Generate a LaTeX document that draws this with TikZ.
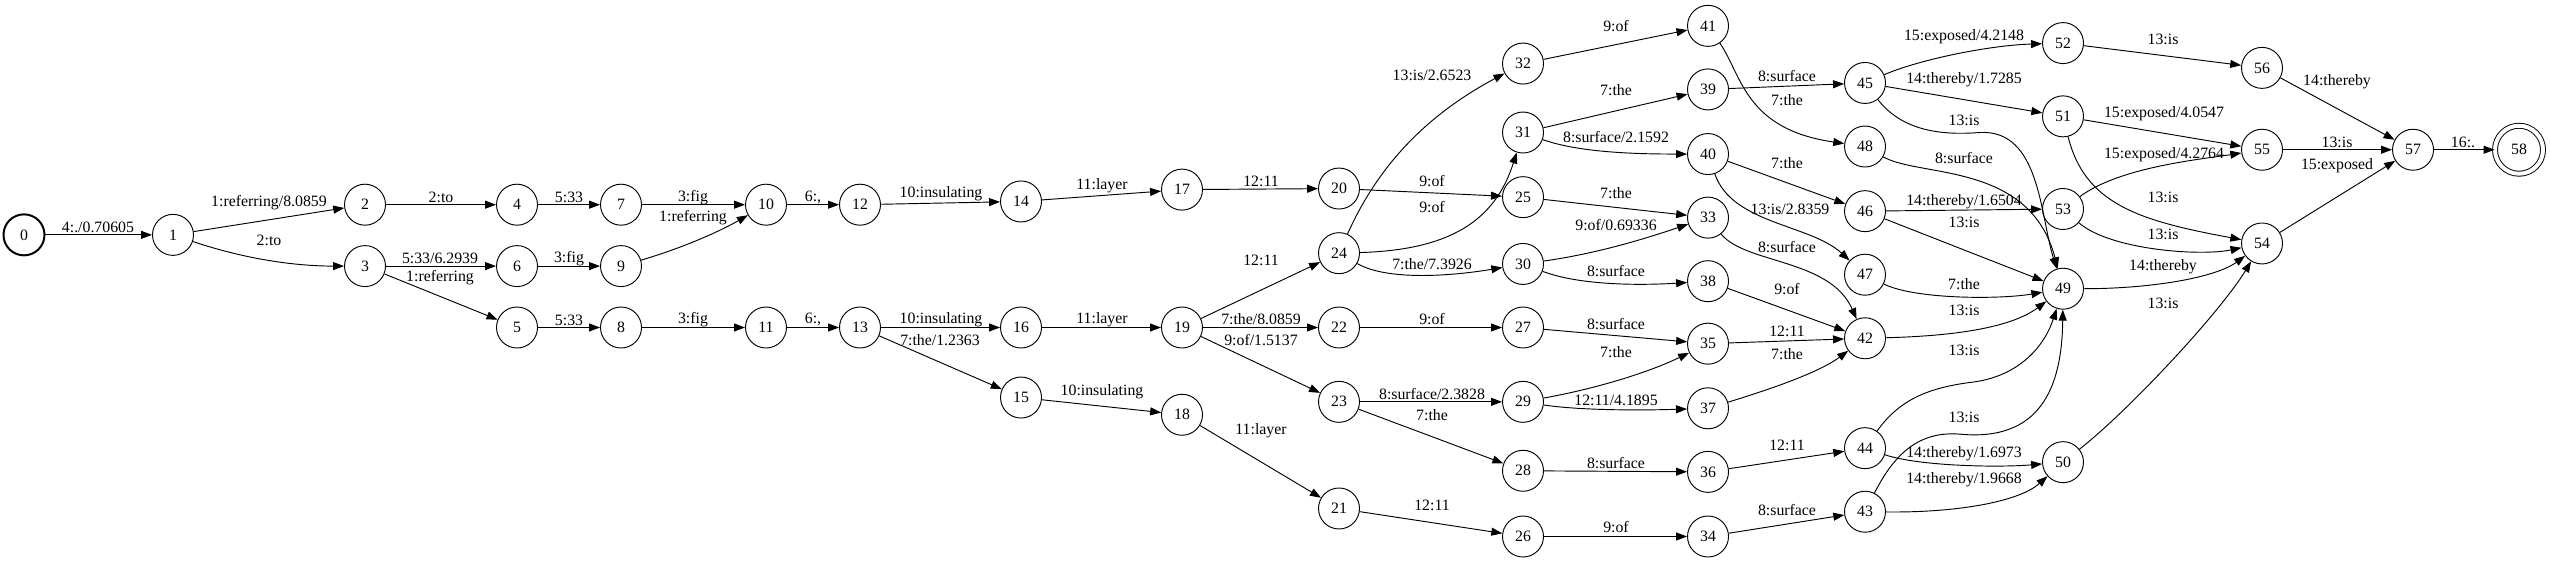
\documentclass[tikz,border=0pt]{standalone}
\usepackage{fontspec}
\setmainfont{Liberation Serif}
\usetikzlibrary{arrows.meta}

\begin{document}
\begin{tikzpicture}[x=0.03cm, y=-0.03232cm, line width=0.8pt,
  >={Triangle[length=0.33cm,width=0.24cm]},
  every node/.style={font=\fontsize{13.5}{16}\selectfont},
  st/.style={draw, circle, minimum size=1.23cm, inner sep=0pt},
  tr/.style={->},
  lab/.style={inner sep=0pt}]
  \useasboundingbox (0,0) rectangle (2550,522.6);
  % states
  \node[st, line width=1.7pt] (n0) at (24,218) {0};
  \foreach \n/\x/\y in {1/173/218, 2/365/190, 3/365/247, 4/517/190, 6/517/247,
      5/517/304, 7/621/190, 9/621/247, 8/621/304, 10/766/190, 11/766/304,
      12/860/190, 13/860/304, 14/1021/187, 16/1021/304, 15/1021/369,
      17/1182/176, 19/1182/304, 18/1182/385, 20/1339/175, 24/1339/235,
      22/1339/304, 23/1339/373, 21/1339/472, 32/1523/59, 31/1523/123,
      25/1523/183, 30/1523/245, 27/1523/304, 29/1523/373, 28/1523/437,
      26/1523/498, 41/1708/24, 39/1708/83, 40/1708/143, 33/1708/202,
      38/1708/261, 35/1708/319, 37/1708/379, 36/1708/438, 34/1708/498,
      45/1865/77, 48/1865/136, 46/1865/196, 47/1865/255, 42/1865/314,
      44/1865/416, 43/1865/475, 52/2063/40, 51/2063/108, 53/2063/194,
      49/2063/268, 50/2063/429, 56/2262/63, 55/2262/139, 54/2262/226,
      57/2413/139}
    \node[st] (n\n) at (\x,\y) {\n};
  \node[st, double, double distance=0.12cm, minimum size=1.44cm] (n58) at (2519,139) {58};

  % arcs
  \draw[tr] (n0) -- (n1) node[lab] at (98,211) {4:./0.70605};
  \draw[tr] (n1) -- (n2) node[lab] at (269,188) {1:referring/8.0859};
  \draw[tr] (n1) .. controls (250,242) and (300,247) .. (n3) node[lab] at (269,223) {2:to};
  \draw[tr] (n2) -- (n4) node[lab] at (441,183) {2:to};
  \draw[tr] (n3) -- (n6) node[lab] at (440,240) {5:33/6.2939};
  \draw[tr] (n3) -- (n5) node[lab] at (440,258) {1:referring};
  \draw[tr] (n4) -- (n7) node[lab] at (569,183) {5:33};
  \draw[tr] (n6) -- (n9) node[lab] at (569,240) {3:fig};
  \draw[tr] (n5) -- (n8) node[lab] at (569,297) {5:33};
  \draw[tr] (n7) -- (n10) node[lab] at (693,183) {3:fig};
  \draw[tr] (n9) .. controls (690,228) and (725,212) .. (n10) node[lab] at (693,202) {1:referring};
  \draw[tr] (n8) -- (n11) node[lab] at (693,297) {3:fig};
  \draw[tr] (n10) -- (n12) node[lab] at (813,183) {6:,};
  \draw[tr] (n11) -- (n13) node[lab] at (813,297) {6:,};
  \draw[tr] (n12) -- (n14) node[lab] at (941,180) {10:insulating};
  \draw[tr] (n13) -- (n16) node[lab] at (941,297) {10:insulating};
  \draw[tr] (n13) -- (n15) node[lab] at (940,316) {7:the/1.2363};
  \draw[tr] (n14) -- (n17) node[lab] at (1102,172) {11:layer};
  \draw[tr] (n16) -- (n19) node[lab] at (1102,297) {11:layer};
  \draw[tr] (n15) -- (n18) node[lab] at (1102,364) {10:insulating};
  \draw[tr] (n17) -- (n20) node[lab] at (1261,168) {12:11};
  \draw[tr] (n19) -- (n24) node[lab] at (1261,242) {12:11};
  \draw[tr] (n19) -- (n22) node[lab] at (1261,296) {7:the/8.0859};
  \draw[tr] (n19) -- (n23) node[lab] at (1261,316) {9:of/1.5137};
  \draw[tr] (n18) -- (n21) node[lab] at (1261,400) {11:layer};
  \draw[tr] (n24) .. controls (1375,160) and (1420,110) .. (n32) node[lab] at (1432,70) {13:is/2.6523};
  \draw[tr] (n20) -- (n25) node[lab] at (1432,168) {9:of};
  \draw[tr] (n24) .. controls (1450,232) and (1495,205) .. (n31) node[lab] at (1432,192) {9:of};
  \draw[tr] (n24) .. controls (1390,262) and (1460,255) .. (n30) node[lab] at (1432,245) {7:the/7.3926};
  \draw[tr] (n22) -- (n27) node[lab] at (1432,296) {9:of};
  \draw[tr] (n23) -- (n29) node[lab] at (1432,366) {8:surface/2.3828};
  \draw[tr] (n23) -- (n28) node[lab] at (1432,385) {7:the};
  \draw[tr] (n21) -- (n26) node[lab] at (1432,469) {12:11};
  \draw[tr] (n32) -- (n41) node[lab] at (1616,24) {9:of};
  \draw[tr] (n31) -- (n39) node[lab] at (1616,84) {7:the};
  \draw[tr] (n31) .. controls (1580,142) and (1640,143) .. (n40) node[lab] at (1616,127) {8:surface/2.1592};
  \draw[tr] (n25) -- (n33) node[lab] at (1616,179) {7:the};
  \draw[tr] (n30) .. controls (1600,235) and (1650,220) .. (n33) node[lab] at (1616,209) {9:of/0.69336};
  \draw[tr] (n30) .. controls (1580,265) and (1640,265) .. (n38) node[lab] at (1616,252) {8:surface};
  \draw[tr] (n27) -- (n35) node[lab] at (1616,301) {8:surface};
  \draw[tr] (n29) .. controls (1600,360) and (1650,345) .. (n35) node[lab] at (1616,327) {7:the};
  \draw[tr] (n29) .. controls (1580,381) and (1640,381) .. (n37) node[lab] at (1616,372) {12:11/4.1895};
  \draw[tr] (n28) -- (n36) node[lab] at (1616,430) {8:surface};
  \draw[tr] (n26) -- (n34) node[lab] at (1616,489) {9:of};
  \draw[tr] (n39) -- (n45) node[lab] at (1787,71) {8:surface};
  \draw[tr] (n41) .. controls (1742,70) and (1745,120) .. (n48) node[lab] at (1787,93) {7:the};
  \draw[tr] (n40) -- (n46) node[lab] at (1787,151) {7:the};
  \draw[tr] (n40) .. controls (1732,208) and (1810,208) .. (n47) node[lab] at (1790,194) {13:is/2.8359};
  \draw[tr] (n33) .. controls (1745,245) and (1830,240) .. (n42) node[lab] at (1787,229) {8:surface};
  \draw[tr] (n38) -- (n42) node[lab] at (1787,268) {9:of};
  \draw[tr] (n35) -- (n42) node[lab] at (1787,308) {12:11};
  \draw[tr] (n37) .. controls (1775,360) and (1820,345) .. (n42) node[lab] at (1787,329) {7:the};
  \draw[tr] (n36) -- (n44) node[lab] at (1787,413) {12:11};
  \draw[tr] (n34) -- (n43) node[lab] at (1787,473) {8:surface};
  \draw[tr] (n45) .. controls (1920,55) and (1990,42) .. (n52) node[lab] at (1964,34) {15:exposed/4.2148};
  \draw[tr] (n45) -- (n51) node[lab] at (1964,74) {14:thereby/1.7285};
  \draw[tr] (n45) .. controls (1905,125) and (1950,125) .. (1980,123)
    .. controls (2040,120) and (2040,200) .. (n49) node[lab] at (1964,112) {13:is};
  \draw[tr] (n48) .. controls (1920,165) and (2030,150) .. (n49) node[lab] at (1964,147) {8:surface};
  \draw[tr] (n46) -- (n53) node[lab] at (1964,187) {14:thereby/1.6504};
  \draw[tr] (n46) -- (n49) node[lab] at (1964,206) {13:is};
  \draw[tr] (n47) .. controls (1915,278) and (2000,278) .. (n49) node[lab] at (1964,264) {7:the};
  \draw[tr] (n42) .. controls (1950,312) and (2010,305) .. (n49) node[lab] at (1964,288) {13:is};
  \draw[tr] (n44) .. controls (1900,370) and (1930,360) .. (1970,355)
    .. controls (2020,350) and (2045,320) .. (n49) node[lab] at (1964,325) {13:is};
  \draw[tr] (n43) .. controls (1895,420) and (1920,400) .. (1960,403)
    .. controls (2040,410) and (2062,360) .. (n49) node[lab] at (1964,387) {13:is};
  \draw[tr] (n44) .. controls (1920,433) and (2000,434) .. (n50) node[lab] at (1964,421) {14:thereby/1.6973};
  \draw[tr] (n43) .. controls (1960,476) and (2020,465) .. (n50) node[lab] at (1964,445) {14:thereby/1.9668};
  \draw[tr] (n52) -- (n56) node[lab] at (2163,37) {13:is};
  \draw[tr] (n51) -- (n55) node[lab] at (2164,106) {15:exposed/4.0547};
  \draw[tr] (n53) .. controls (2120,155) and (2200,148) .. (n55) node[lab] at (2164,144) {15:exposed/4.2764};
  \draw[tr] (n51) .. controls (2085,190) and (2140,205) .. (n54) node[lab] at (2163,183) {13:is};
  \draw[tr] (n53) .. controls (2110,232) and (2200,238) .. (n54) node[lab] at (2163,218) {13:is};
  \draw[tr] (n49) .. controls (2150,268) and (2215,258) .. (n54) node[lab] at (2163,248) {14:thereby};
  \draw[tr] (n50) .. controls (2130,380) and (2220,290) .. (n54) node[lab] at (2163,282) {13:is};
  \draw[tr] (n56) -- (n57) node[lab] at (2337,76) {14:thereby};
  \draw[tr] (n55) -- (n57) node[lab] at (2337,132) {13:is};
  \draw[tr] (n54) -- (n57) node[lab] at (2337,154) {15:exposed};
  \draw[tr] (n57) -- (n58) node[lab] at (2463,132) {16:.};
\end{tikzpicture}
\end{document}
